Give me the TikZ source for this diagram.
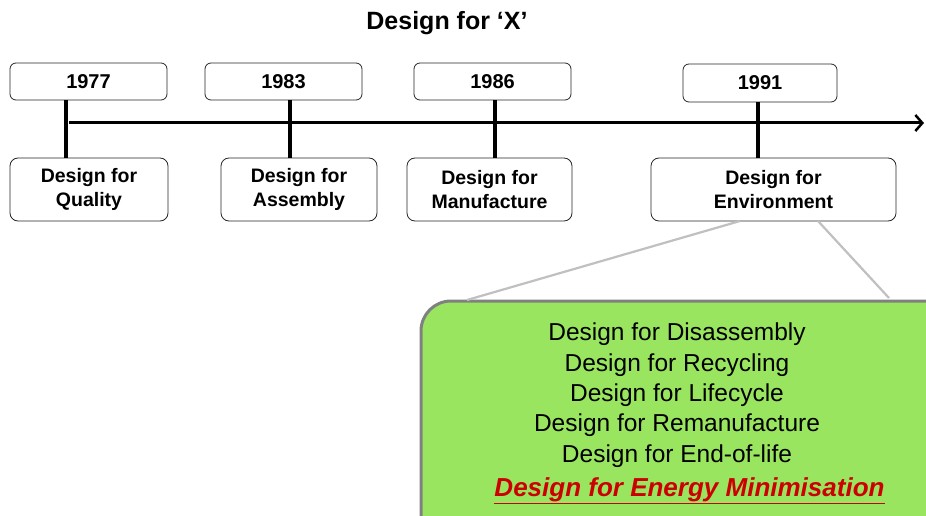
\documentclass[tikz,border=0pt]{standalone}
\usepackage{fontspec}
\setmainfont{Liberation Sans}
\usetikzlibrary{arrows.meta}
\definecolor{boxgreen}{RGB}{153,229,95}
\definecolor{boxgray}{RGB}{128,128,128}
\definecolor{linkgray}{RGB}{192,192,192}
\definecolor{darkred}{RGB}{204,0,0}
\begin{document}
\begin{tikzpicture}[x=1pt,y=-1pt,
  yearbox/.style={draw=black!85, rounded corners=6pt, line width=0.8pt, minimum width=157pt, minimum height=37pt, inner sep=0pt, font=\fontsize{20}{22}\selectfont\bfseries},
  dfbox/.style={draw=black!85, rounded corners=8pt, line width=0.8pt, minimum height=63pt, inner sep=0pt, align=center, font=\fontsize{19.5}{24}\selectfont\bfseries},
  stem/.style={line width=4pt},
  axis/.style={line width=3pt, -{Straight Barb[length=7pt,width=16pt,line width=2.5pt]}},
  link/.style={draw=linkgray, line width=2.2pt},
  listtext/.style={font=\fontsize{24.5}{30}\selectfont, inner sep=0pt},
]
\useasboundingbox (0,0) rectangle (926,516);
\clip (0,0) rectangle (926,516);
\fill[white] (0,0) rectangle (926,516);

\node[font=\fontsize{25}{28}\selectfont\bfseries] (title) at (447,23) {Design for ‘X’};

\node[yearbox] (y1) at (88.5,81.5) {1977};
\node[yearbox] (y2) at (283.5,81.5) {1983};
\node[yearbox] (y3) at (492.5,81.5) {1986};
\node[yearbox, minimum width=154pt, minimum height=38pt] (y4) at (760,83) {1991};

\node[dfbox, minimum width=158pt] (d1) at (89,189.5) {Design for\\Quality};
\node[dfbox, minimum width=156pt] (d2) at (299,189.5) {Design for\\Assembly};
\node[dfbox, minimum width=165pt] (d3) at (489.5,189.5) {Design for\\Manufacture};
\node[dfbox, minimum width=245pt] (d4) at (773.5,189.5) {Design for\\Environment};

\draw[stem] (66,0 |- y1.south) -- (66,0 |- d1.north);
\draw[stem] (290,0 |- y2.south) -- (290,0 |- d2.north);
\draw[stem] (495,0 |- y3.south) -- (495,0 |- d3.north);
\draw[stem] (758,0 |- y4.south) -- (758,0 |- d4.north);

\coordinate (ax0) at (69,123);
\coordinate (ax1) at (924,123);
\draw[axis] (ax0) -- (ax1);

\node[draw=boxgray, fill=boxgreen, line width=3pt, rounded corners=30pt, minimum width=539pt, minimum height=259pt, inner sep=0pt] (green) at (690.5,430.5) {};

\coordinate (l1a) at (740,221);
\coordinate (l1b) at (467,300);
\coordinate (l2a) at (818,221);
\coordinate (l2b) at (889,298);
\draw[link] (l1a) -- (l1b);
\draw[link] (l2a) -- (l2b);

\node[listtext] (t1) at (677,334) {Design for Disassembly};
\node[listtext] (t2) at (677,365) {Design for Recycling};
\node[listtext] (t3) at (677,395) {Design for Lifecycle};
\node[listtext] (t4) at (677,425) {Design for Remanufacture};
\node[listtext] (t5) at (677,456) {Design for End-of-life};
\node[listtext, text=darkred, font=\fontsize{26}{30}\selectfont\bfseries\itshape] (t6) at (689.5,491) {\underline{Design for Energy Minimisation}};
\end{tikzpicture}
\end{document}
